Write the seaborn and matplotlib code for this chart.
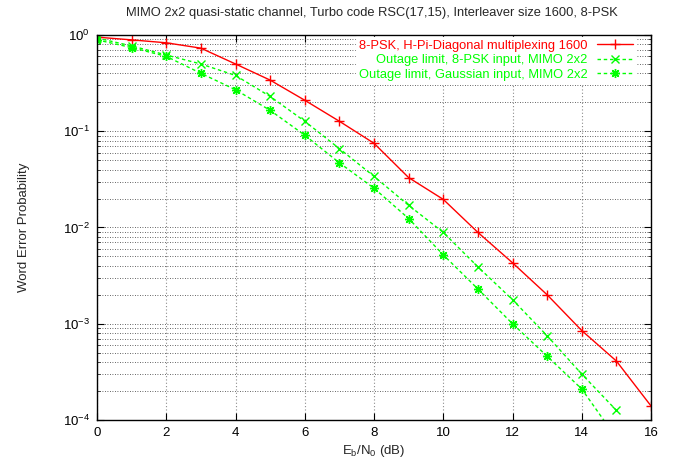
import numpy as np
import pandas as pd
import matplotlib
matplotlib.use("Agg")
import matplotlib.pyplot as plt
import seaborn as sns
from matplotlib.ticker import LogLocator, FixedLocator

# ---- data ----
snr_red = [0, 1, 2, 3, 4, 5, 6, 7, 8, 9, 10, 11, 12, 13, 14, 15, 16]
wep_red = [0.95, 0.89, 0.83, 0.73, 0.50, 0.34, 0.21, 0.127, 0.075, 0.033,
           0.0196, 0.0089, 0.0043, 0.0020, 8.5e-4, 4.1e-4, 1.4e-4]

snr_psk = [0, 1, 2, 3, 4, 5, 6, 7, 8, 9, 10, 11, 12, 13, 14, 15]
wep_psk = [0.93, 0.77, 0.62, 0.50, 0.38, 0.23, 0.127, 0.066, 0.034, 0.017,
           0.0089, 0.0039, 0.00178, 7.5e-4, 3.0e-4, 1.26e-4]

snr_gauss = [0, 1, 2, 3, 4, 5, 6, 7, 8, 9, 10, 11, 12, 13, 14, 15]
wep_gauss = [0.89, 0.74, 0.60, 0.40, 0.27, 0.165, 0.091, 0.047, 0.0256, 0.0124,
             0.0052, 0.0023, 1.0e-3, 4.6e-4, 2.1e-4, 6.5e-5]

labels = ["8-PSK, H-Pi-Diagonal multiplexing 1600",
          "Outage limit, 8-PSK input, MIMO 2x2",
          "Outage limit, Gaussian input, MIMO 2x2"]
title = "MIMO 2x2 quasi-static channel, Turbo code RSC(17,15), Interleaver size 1600, 8-PSK"
xticks = [0, 2, 4, 6, 8, 10, 12, 14, 16]

sns.set_theme(style="ticks")
plt.rcParams['font.family'] = ['Liberation Sans', 'DejaVu Sans']
plt.rcParams['mathtext.fontset'] = 'custom'
plt.rcParams['mathtext.rm'] = 'Liberation Sans'
plt.rcParams['mathtext.it'] = 'Liberation Sans'

fig = plt.figure(figsize=(6.77, 4.61), dpi=100)
ax = fig.add_axes([97/677, 41/461, (651-97)/677, (420-35)/461])

df_red = pd.DataFrame({"snr": snr_red, "wep": wep_red})
df_psk = pd.DataFrame({"snr": snr_psk, "wep": wep_psk})
df_gauss = pd.DataFrame({"snr": snr_gauss, "wep": wep_gauss})

RED = "#ff0000"
GREEN = "#00ff00"

sns.lineplot(data=df_red, x="snr", y="wep", ax=ax, color=RED, lw=1.0,
             marker="+", markersize=6.5, markeredgewidth=1.0,
             markeredgecolor=RED, label=labels[0])
sns.lineplot(data=df_psk, x="snr", y="wep", ax=ax, color=GREEN, lw=1.0,
             marker="x", markersize=5.5, markeredgewidth=1.0,
             markeredgecolor=GREEN, dashes=(2.5, 2), label=labels[1])
sns.lineplot(data=df_gauss, x="snr", y="wep", ax=ax, color=GREEN, lw=1.0,
             marker=(8, 2, 0), markersize=6.5, markeredgewidth=1.0,
             markeredgecolor=GREEN, dashes=(2.5, 2), label=labels[2])

ax.set_yscale("log")
ax.set_xlim(0, 16)
ax.set_ylim(1e-4, 1)
ax.xaxis.set_major_locator(FixedLocator(xticks))
ax.yaxis.set_major_locator(LogLocator(base=10, numticks=10))
ax.yaxis.set_minor_locator(LogLocator(base=10, subs=np.arange(2, 10), numticks=20))

ax.grid(True, which="major", axis="x", color="0.55", ls=(0, (1, 2)), lw=0.8)
ax.grid(True, which="both", axis="y", color="0.2", ls=(0, (1, 2)), lw=0.6)

ax.tick_params(which="major", direction="in", length=5, width=0.8,
               top=True, right=True, labelsize=9.5, colors="black", pad=5)
ax.tick_params(which="minor", direction="in", length=2.5, width=0.6,
               top=False, right=True)
ax.tick_params(axis="x", which="minor", bottom=False, top=False)
for s in ax.spines.values():
    s.set_color("black")
    s.set_linewidth(1.0)

ax.set_xlabel(r"$\mathregular{E_b/N_0}$ (dB)", fontsize=9.5, labelpad=3)
ax.set_ylabel("Word Error Probability", fontsize=9.5, labelpad=24)
fig.suptitle(title, fontsize=9.3, x=372/677, y=1 - 7/461, va="top")

leg = ax.legend(loc="upper right", bbox_to_anchor=(0.972, 0.995),
                markerfirst=False, frameon=True,
                fontsize=9.3, handlelength=2.8, handletextpad=0.7,
                labelspacing=0.2, borderaxespad=0.0, borderpad=0.2,
                fancybox=False)
leg.get_frame().set_facecolor("white")
leg.get_frame().set_edgecolor("white")
leg.get_frame().set_alpha(1.0)
for t, c in zip(leg.get_texts(), [RED, GREEN, GREEN]):
    t.set_color(c)

fig.savefig("out.png", dpi=100)
